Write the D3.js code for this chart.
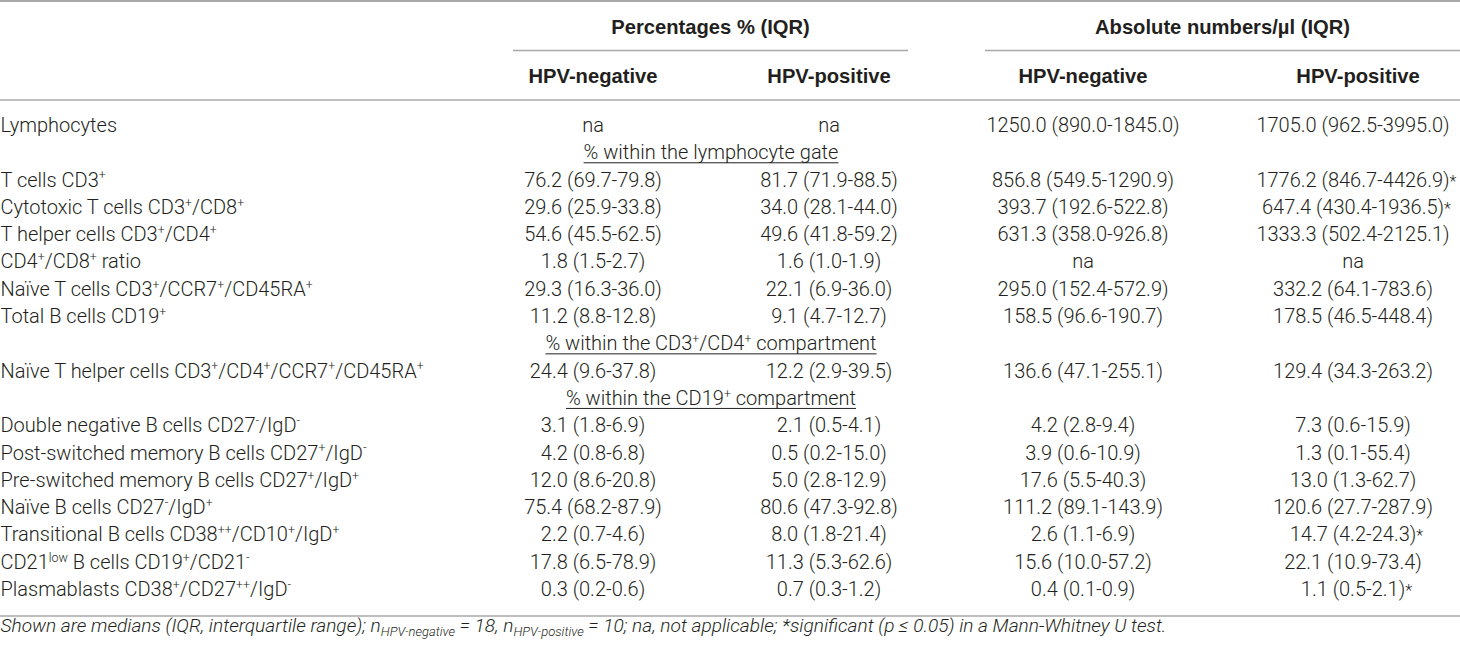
<!DOCTYPE html>
<html>
<head>
<meta charset="utf-8">
<script src="https://cdn.jsdelivr.net/npm/d3@7"></script>
<style>
  html, body { margin: 0; padding: 0; background: #ffffff; }
  svg { display: block; }
  text { font-family: Roboto, "Liberation Sans", Arial, sans-serif; fill: #231f20; }
  .head text { font-family: "Liberation Sans", Arial, Helvetica, sans-serif; }
</style>
</head>
<body>
<div id="chart"></div>
<script>
// ---------------- data ----------------
const groupTitles = ["Percentages % (IQR)", "Absolute numbers/\u00b5l (IQR)"];
const columnTitles = ["HPV-negative", "HPV-positive", "HPV-negative", "HPV-positive"];

const categories = [
  "Lymphocytes",
  "T cells CD3^{+}",
  "Cytotoxic T cells CD3^{+}/CD8^{+}",
  "T helper cells CD3^{+}/CD4^{+}",
  "CD4^{+}/CD8^{+} ratio",
  "Na\u00efve T cells CD3^{+}/CCR7^{+}/CD45RA^{+}",
  "Total B cells CD19^{+}",
  "Na\u00efve T helper cells CD3^{+}/CD4^{+}/CCR7^{+}/CD45RA^{+}",
  "Double negative B cells CD27^{-}/IgD^{-}",
  "Post-switched memory B cells CD27^{+}/IgD^{-}",
  "Pre-switched memory B cells CD27^{+}/IgD^{+}",
  "Na\u00efve B cells CD27^{-}/IgD^{+}",
  "Transitional B cells CD38^{++}/CD10^{+}/IgD^{+}",
  "CD21^{low} B cells CD19^{+}/CD21^{-}",
  "Plasmablasts CD38^{+}/CD27^{++}/IgD^{-}"
];

const sectionTitles = [
  "% within the lymphocyte gate",
  "% within the CD3^{+}/CD4^{+} compartment",
  "% within the CD19^{+} compartment"
];
const sectionBefore = [1, 7, 8];

// [median, Q1, Q3]; null = not applicable
const pctNegative = [
  null, [76.2, 69.7, 79.8], [29.6, 25.9, 33.8], [54.6, 45.5, 62.5], [1.8, 1.5, 2.7],
  [29.3, 16.3, 36.0], [11.2, 8.8, 12.8], [24.4, 9.6, 37.8], [3.1, 1.8, 6.9],
  [4.2, 0.8, 6.8], [12.0, 8.6, 20.8], [75.4, 68.2, 87.9], [2.2, 0.7, 4.6],
  [17.8, 6.5, 78.9], [0.3, 0.2, 0.6]
];
const pctPositive = [
  null, [81.7, 71.9, 88.5], [34.0, 28.1, 44.0], [49.6, 41.8, 59.2], [1.6, 1.0, 1.9],
  [22.1, 6.9, 36.0], [9.1, 4.7, 12.7], [12.2, 2.9, 39.5], [2.1, 0.5, 4.1],
  [0.5, 0.2, 15.0], [5.0, 2.8, 12.9], [80.6, 47.3, 92.8], [8.0, 1.8, 21.4],
  [11.3, 5.3, 62.6], [0.7, 0.3, 1.2]
];
const absNegative = [
  [1250.0, 890.0, 1845.0], [856.8, 549.5, 1290.9], [393.7, 192.6, 522.8], [631.3, 358.0, 926.8], null,
  [295.0, 152.4, 572.9], [158.5, 96.6, 190.7], [136.6, 47.1, 255.1], [4.2, 2.8, 9.4],
  [3.9, 0.6, 10.9], [17.6, 5.5, 40.3], [111.2, 89.1, 143.9], [2.6, 1.1, 6.9],
  [15.6, 10.0, 57.2], [0.4, 0.1, 0.9]
];
const absPositive = [
  [1705.0, 962.5, 3995.0], [1776.2, 846.7, 4426.9], [647.4, 430.4, 1936.5], [1333.3, 502.4, 2125.1], null,
  [332.2, 64.1, 783.6], [178.5, 46.5, 448.4], [129.4, 34.3, 263.2], [7.3, 0.6, 15.9],
  [1.3, 0.1, 55.4], [13.0, 1.3, 62.7], [120.6, 27.7, 287.9], [14.7, 4.2, 24.3],
  [22.1, 10.9, 73.4], [1.1, 0.5, 2.1]
];
const absPositiveSignificant = [false, true, true, false, false, false, false, false, false, false, false, false, true, false, true];

const footnote = "Shown are medians (IQR, interquartile range); n_{HPV-negative} = 18, n_{HPV-positive} = 10; na, not applicable; *significant (p \u2264 0.05) in a Mann-Whitney U test.";

// ---------------- layout ----------------
const W = 1460, H = 649;
const FS = 20;
const svg = d3.select("#chart").append("svg").attr("width", W).attr("height", H);

const colKeys = ["pctNeg", "pctPos", "absNeg", "absPos"];
const colX = d3.scaleOrdinal().domain(colKeys).range([593, 829, 1083, 1353]);
const colData = { pctNeg: pctNegative, pctPos: pctPositive, absNeg: absNegative, absPos: absPositive };
const groupSpan = [[513, 908], [985, 1460]];

// build row sequence
const layout = [];
let s = 0;
categories.forEach((c, i) => {
  while (s < sectionBefore.length && sectionBefore[s] === i) { layout.push({ type: "section", idx: s }); s++; }
  layout.push({ type: "data", idx: i });
});
const y = d3.scalePoint().domain(d3.range(layout.length)).range([132, 596]);

const fmt = d3.format(".1f");
const cellText = v => v == null ? "na" : `${fmt(v[0])} (${fmt(v[1])}-${fmt(v[2])})`;

function rich(textSel, str, size) {
  const parts = str.split(/(\^\{[^}]*\}|_\{[^}]*\})/).filter(p => p.length);
  let shift = 0;
  parts.forEach(p => {
    const t = textSel.append("tspan");
    let target = 0, content = p, fs = size;
    if (p.startsWith("^{")) { target = -size * 0.36; content = p.slice(2, -1); fs = size * 0.62; }
    else if (p.startsWith("_{")) { target = size * 0.22; content = p.slice(2, -1); fs = size * 0.68; }
    t.attr("dy", target - shift).style("font-size", fs + "px").text(content);
    shift = target;
  });
}

// ---------------- lines ----------------
const lines = svg.append("g").attr("fill", "none");
lines.append("line").attr("x1", 0).attr("x2", W).attr("y1", 1).attr("y2", 1).attr("stroke", "#8a8a8a").attr("stroke-width", 1.6);
groupSpan.forEach(g => {
  lines.append("line").attr("x1", g[0]).attr("x2", g[1]).attr("y1", 50.5).attr("y2", 50.5).attr("stroke", "#a8a8a8").attr("stroke-width", 1.4);
});
lines.append("line").attr("x1", 0).attr("x2", W).attr("y1", 100).attr("y2", 100).attr("stroke", "#a8a8a8").attr("stroke-width", 1.4);
lines.append("line").attr("x1", 0).attr("x2", W).attr("y1", 616).attr("y2", 616).attr("stroke", "#a8a8a8").attr("stroke-width", 1.4);

// ---------------- headers ----------------
const head = svg.append("g").attr("class", "head").style("font-weight", 700).style("font-size", "20.2px").attr("text-anchor", "middle");
const headX = [593, 829, 1083, 1358];
groupTitles.forEach((t, i) => {
  head.append("text").attr("x", (groupSpan[i][0] + groupSpan[i][1]) / 2).attr("y", 33.5).text(t);
});
columnTitles.forEach((t, i) => {
  head.append("text").attr("x", headX[i]).attr("y", 82.5).text(t);
});

// ---------------- body ----------------
const body = svg.append("g").style("font-weight", 300).style("font-size", FS + "px");
const sectionCenter = (colX("pctNeg") + colX("pctPos")) / 2;

layout.forEach((row, r) => {
  const yy = y(r);
  if (row.type === "section") {
    const t = body.append("text").attr("x", sectionCenter).attr("y", yy).attr("text-anchor", "middle");
    rich(t, sectionTitles[row.idx], FS);
    const bb = t.node().getBBox();
    body.append("line").attr("x1", bb.x).attr("x2", bb.x + bb.width)
      .attr("y1", yy + 3.5).attr("y2", yy + 3.5).attr("stroke", "#231f20").attr("stroke-width", 1);
  } else {
    const i = row.idx;
    const lab = body.append("text").attr("x", 0.5).attr("y", yy);
    rich(lab, categories[i], FS);
    colKeys.forEach(k => {
      const t = body.append("text").attr("x", colX(k)).attr("y", yy).attr("text-anchor", "middle")
        .text(cellText(colData[k][i]));
      if (k === "absPos" && absPositiveSignificant[i]) {
        const len = t.node().getComputedTextLength();
        body.append("text").attr("x", colX(k) + len / 2).attr("y", yy).style("font-size", (FS * 0.8) + "px").text("*");
      }
    });
  }
});

// ---------------- footnote ----------------
const FFS = 19.1;
const fn = svg.append("text").attr("x", 0.5).attr("y", 632).style("font-style", "italic").style("font-weight", 300).style("font-size", FFS + "px");
rich(fn, footnote, FFS);
</script>
</body>
</html>
